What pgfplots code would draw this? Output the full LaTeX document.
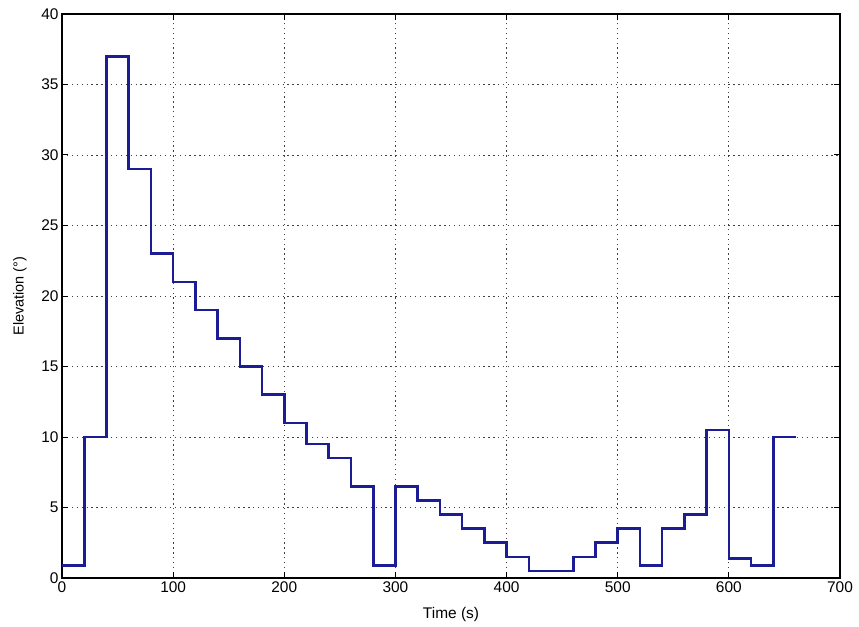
\documentclass[border=0pt]{standalone}
\usepackage{fontspec}
\setmainfont{Liberation Sans}
\usepackage{pgfplots}
\pgfplotsset{compat=1.18}
\definecolor{lineblue}{RGB}{28,28,150}
\begin{document}
\begin{tikzpicture}
\begin{axis}[
  scale only axis,
  width=778bp, height=564bp,
  xmin=0, xmax=700, ymin=0, ymax=40,
  xtick={0,100,...,700}, ytick={0,5,...,40},
  tick align=inside,
  major tick length=6bp,
  axis line style={line width=1.2bp, black},
  every tick/.style={black, line width=1bp},
  grid=major,
  major grid style={black!75, line width=0.9bp, dash pattern=on 1.3bp off 3.6bp},
  tick label style={font=\fontsize{15.5}{18}\selectfont},
  /pgf/number format/assume math mode=true,
  every axis x label/.style={at={(axis description cs:0.5,0)}, yshift=-36bp, anchor=center, font=\fontsize{15.5}{18}\selectfont},
  every axis y label/.style={at={(axis description cs:0,0.5)}, xshift=-42bp, rotate=90, anchor=center, font=\fontsize{14.5}{18}\selectfont},
  xlabel={Time (s)},
  ylabel={Elevation (°)},
]
\addplot[const plot, color=lineblue, line width=2.6bp] coordinates {
(0,0.9) (20,10) (40,37) (60,29) (80,23) (100,21) (120,19) (140,17) (160,15)
(180,13) (200,11) (220,9.5) (240,8.5) (260,6.5) (280,0.9) (300,6.5) (320,5.5)
(340,4.5) (360,3.5) (380,2.5) (400,1.5) (420,0.5) (440,0.5) (460,1.5) (480,2.5)
(500,3.5) (520,0.9) (540,3.5) (560,4.5) (580,10.5) (600,1.4) (620,0.9) (640,10) (660,10)
};
\end{axis}
\path ([xshift=-62bp,yshift=-48bp]current axis.south west) rectangle ([xshift=19bp,yshift=14bp]current axis.north east);
\end{tikzpicture}
\end{document}
